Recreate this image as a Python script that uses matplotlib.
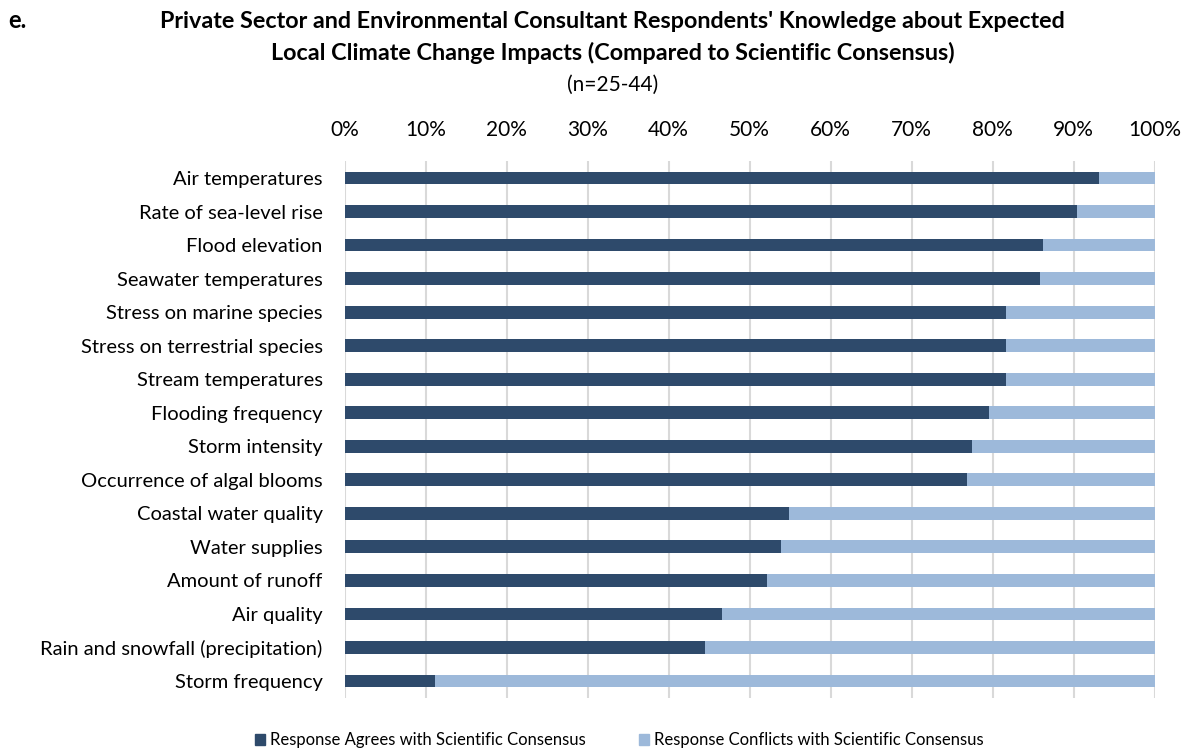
import matplotlib
matplotlib.use("Agg")
import matplotlib.pyplot as plt
from matplotlib.ticker import FuncFormatter, MultipleLocator
from matplotlib.patches import Patch

categories = [
    "Air temperatures", "Rate of sea-level rise", "Flood elevation",
    "Seawater temperatures", "Stress on marine species",
    "Stress on terrestrial species", "Stream temperatures",
    "Flooding frequency", "Storm intensity", "Occurrence of algal blooms",
    "Coastal water quality", "Water supplies", "Amount of runoff",
    "Air quality", "Rain and snowfall (precipitation)", "Storm frequency",
]
agrees = [93.2, 90.4, 86.2, 85.8, 81.6, 81.6, 81.6, 79.6, 77.4, 76.9,
          54.8, 53.9, 52.1, 46.6, 44.5, 11.1]
conflicts = [100 - a for a in agrees]
series_names = ["Response Agrees with Scientific Consensus",
                "Response Conflicts with Scientific Consensus"]

plt.rcParams['font.family'] = ['Lato', 'DejaVu Sans']
dark = "#2E4A6B"
light = "#9DB9DA"

fig = plt.figure(figsize=(11.89, 7.5), dpi=100)
ax = fig.add_axes([0.290, 0.0697, 0.681, 0.7153])

y = list(range(len(categories)))
ax.barh(y, agrees, height=0.38, color=dark, zorder=3)
ax.barh(y, conflicts, left=agrees, height=0.38, color=light, zorder=3)

ax.set_xlim(0, 100)
ax.set_ylim(len(categories) - 0.5, -0.5)
ax.set_yticks(y)
ax.set_yticklabels(categories, fontsize=14.5)
ax.xaxis.tick_top()
ax.xaxis.set_major_locator(MultipleLocator(10))
ax.xaxis.set_major_formatter(FuncFormatter(lambda v, p: f"{v:.0f}%"))
ax.tick_params(axis='x', length=0, labelsize=15, pad=15)
ax.tick_params(axis='y', length=0, pad=16)
ax.grid(axis='x', color="#D9D9D9", linewidth=1.5, zorder=0)
for s in ax.spines.values():
    s.set_visible(False)

fig.text(0.007, 0.973, "e.", fontsize=17, fontweight='bold', ha='left', va='center')
fig.text(0.515, 0.972, "Private Sector and Environmental Consultant Respondents' Knowledge about Expected",
         fontsize=16.8, fontweight='bold', ha='center', va='center')
fig.text(0.515, 0.930, "Local Climate Change Impacts (Compared to Scientific Consensus)",
         fontsize=16.8, fontweight='bold', ha='center', va='center')
fig.text(0.515, 0.887, "(n=25-44)", fontsize=15, ha='center', va='center')

handles = [Patch(color=dark), Patch(color=light)]
fig.legend(handles, series_names, loc='center', bbox_to_anchor=(0.521, 0.013),
           ncol=2, frameon=False, fontsize=12, handlelength=0.6, handleheight=0.6,
           handletextpad=0.3, columnspacing=3.2)

fig.savefig("out.png", dpi=100)
